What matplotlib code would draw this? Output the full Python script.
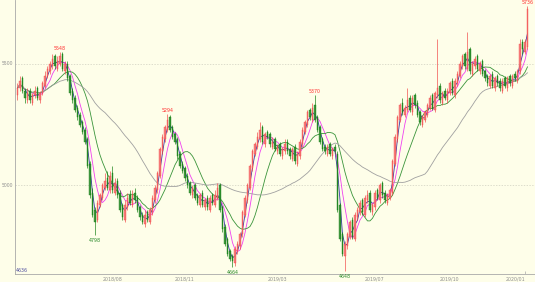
import matplotlib
matplotlib.use('Agg')
import matplotlib.pyplot as plt
import numpy as np
import pandas as pd

# daily-ish candles (about 2.5 px per candle)
opens = [5370, 5400, 5440, 5390, 5350, 5390, 5340, 5370, 5400, 5350, 5380, 5410,
         5450, 5470, 5490, 5530, 5480, 5500, 5540, 5470, 5500, 5450, 5390, 5360,
         5320, 5290, 5260, 5230, 5190, 5090, 4970, 4900, 4860, 4920, 4950, 4990,
         5030, 4980, 5050, 4970, 5020, 4970, 4920, 4860, 4910, 4960, 4920, 4970,
         4950, 4910, 4880, 4840, 4890, 4850, 4890, 4940, 4980, 5040, 5140, 5190,
         5230, 5280, 5240, 5210, 5190, 5130, 5090, 5070, 5040, 5010, 4960, 5000,
         4960, 4920, 4970, 4910, 4950, 4900, 4960, 4920, 4950, 5000, 4910, 4830,
         4780, 4730, 4710, 4680, 4730, 4750, 4800, 4880, 4940, 4990, 5070, 5130,
         5160, 5190, 5240, 5170, 5220, 5210, 5160, 5190, 5140, 5170, 5120, 5140,
         5180, 5150, 5110, 5160, 5090, 5120, 5170, 5220, 5250, 5310, 5270, 5330,
         5280, 5240, 5190, 5160, 5130, 5170, 5120, 5160, 5130, 4920, 4800, 4710,
         4750, 4790, 4860, 4780, 4870, 4890, 4940, 4880, 4940, 4970, 4890, 4910,
         4980, 4940, 5010, 4970, 4930, 4950, 4970, 5090, 5190, 5270, 5340, 5290,
         5310, 5360, 5300, 5370, 5340, 5300, 5250, 5270, 5290, 5320, 5370, 5310,
         5370, 5410, 5340, 5390, 5350, 5380, 5430, 5370, 5420, 5450, 5490, 5540,
         5480, 5560, 5460, 5490, 5530, 5470, 5510, 5470, 5450, 5410, 5460, 5400,
         5450, 5430, 5390, 5440, 5400, 5450, 5410, 5460, 5430, 5470, 5590, 5550,
         5570]
highs = [5420, 5450, 5450, 5400, 5400, 5400, 5380, 5410, 5410, 5390, 5430, 5470,
         5490, 5510, 5540, 5540, 5530, 5548, 5550, 5510, 5510, 5460, 5400, 5370,
         5330, 5300, 5270, 5240, 5200, 5100, 4990, 4910, 4940, 4970, 5010, 5050,
         5060, 5060, 5080, 5030, 5030, 4980, 4930, 4940, 4970, 4980, 4980, 4990,
         4960, 4920, 4890, 4900, 4900, 4910, 4960, 5000, 5060, 5160, 5210, 5250,
         5294, 5290, 5250, 5220, 5200, 5140, 5100, 5080, 5050, 5020, 5000, 5010,
         4970, 4970, 4980, 4950, 4960, 4960, 4970, 4980, 5010, 5010, 4920, 4840,
         4790, 4740, 4720, 4750, 4770, 4810, 4900, 4960, 5010, 5090, 5150, 5180,
         5220, 5260, 5250, 5220, 5230, 5220, 5200, 5200, 5170, 5180, 5160, 5190,
         5190, 5160, 5160, 5170, 5140, 5190, 5240, 5270, 5310, 5320, 5340, 5370,
         5290, 5250, 5200, 5170, 5170, 5180, 5160, 5170, 5140, 4930, 4810, 4770,
         4810, 4860, 4870, 4890, 4910, 4940, 4950, 4960, 4980, 4980, 4930, 4980,
         4990, 5010, 5020, 4980, 4970, 4990, 5110, 5210, 5290, 5340, 5360, 5330,
         5400, 5370, 5370, 5380, 5350, 5310, 5290, 5310, 5340, 5370, 5380, 5390,
         5600, 5420, 5390, 5400, 5400, 5430, 5440, 5440, 5470, 5510, 5540, 5550,
         5630, 5570, 5510, 5530, 5540, 5510, 5520, 5480, 5460, 5460, 5470, 5450,
         5460, 5440, 5440, 5450, 5450, 5460, 5460, 5470, 5480, 5600, 5600, 5600,
         5736]
lows = [5350, 5390, 5380, 5340, 5340, 5340, 5330, 5360, 5350, 5340, 5370, 5400,
        5440, 5460, 5480, 5480, 5470, 5490, 5470, 5460, 5430, 5370, 5340, 5300,
        5270, 5240, 5210, 5170, 5070, 4950, 4870, 4798, 4850, 4910, 4940, 4980,
        4980, 4970, 4970, 4960, 4950, 4890, 4860, 4850, 4900, 4920, 4910, 4930,
        4890, 4860, 4840, 4830, 4850, 4840, 4880, 4930, 4970, 5030, 5130, 5180,
        5220, 5220, 5190, 5170, 5110, 5070, 5050, 5020, 4990, 4960, 4950, 4940,
        4920, 4910, 4910, 4900, 4900, 4890, 4920, 4910, 4940, 4890, 4810, 4750,
        4710, 4690, 4664, 4670, 4720, 4740, 4790, 4870, 4930, 4980, 5060, 5120,
        5150, 5180, 5170, 5160, 5190, 5160, 5150, 5140, 5130, 5120, 5110, 5130,
        5130, 5110, 5100, 5090, 5080, 5110, 5160, 5210, 5240, 5270, 5260, 5260,
        5220, 5170, 5140, 5130, 5120, 5120, 5110, 5130, 4890, 4770, 4710, 4648,
        4740, 4780, 4780, 4770, 4860, 4880, 4880, 4870, 4930, 4890, 4880, 4900,
        4940, 4930, 4950, 4930, 4920, 4940, 4960, 5080, 5180, 5260, 5290, 5280,
        5300, 5300, 5290, 5320, 5280, 5250, 5240, 5260, 5280, 5310, 5310, 5300,
        5360, 5340, 5330, 5350, 5340, 5370, 5370, 5360, 5410, 5440, 5480, 5480,
        5470, 5460, 5450, 5480, 5470, 5460, 5450, 5430, 5410, 5400, 5400, 5390,
        5410, 5390, 5380, 5400, 5390, 5410, 5400, 5430, 5420, 5460, 5540, 5540,
        5560]
closes = [5400, 5430, 5390, 5360, 5380, 5350, 5370, 5390, 5360, 5380, 5420, 5450,
          5480, 5500, 5520, 5490, 5510, 5530, 5480, 5500, 5440, 5380, 5350, 5310,
          5280, 5250, 5220, 5180, 5080, 4960, 4880, 4850, 4930, 4960, 5000, 5020,
          4990, 5040, 4980, 5010, 4960, 4900, 4870, 4920, 4950, 4930, 4960, 4940,
          4900, 4870, 4850, 4880, 4860, 4900, 4950, 4990, 5050, 5150, 5200, 5240,
          5270, 5230, 5200, 5180, 5120, 5080, 5060, 5030, 5000, 4970, 4990, 4950,
          4930, 4960, 4920, 4940, 4910, 4950, 4930, 4960, 4990, 4900, 4820, 4760,
          4720, 4700, 4690, 4740, 4760, 4800, 4890, 4950, 5000, 5080, 5140, 5170,
          5200, 5230, 5180, 5210, 5200, 5170, 5180, 5150, 5160, 5130, 5150, 5170,
          5140, 5120, 5150, 5100, 5130, 5180, 5230, 5260, 5300, 5280, 5320, 5270,
          5230, 5180, 5150, 5140, 5160, 5130, 5150, 5140, 4900, 4780, 4720, 4760,
          4800, 4850, 4790, 4880, 4900, 4930, 4890, 4950, 4960, 4900, 4920, 4970,
          4950, 5000, 4960, 4940, 4960, 4980, 5100, 5200, 5280, 5330, 5300, 5320,
          5350, 5310, 5360, 5330, 5290, 5260, 5280, 5300, 5330, 5360, 5320, 5380,
          5400, 5350, 5380, 5360, 5390, 5420, 5380, 5430, 5460, 5500, 5530, 5490,
          5550, 5470, 5500, 5520, 5480, 5500, 5460, 5440, 5420, 5450, 5410, 5440,
          5420, 5400, 5430, 5410, 5440, 5420, 5450, 5440, 5470, 5580, 5560, 5590,
          5725]

tick_idx = [34, 63, 100, 139, 169, 203]
tick_labels = ['2018/08', '2018/11', '2019/03', '2019/07', '2019/10', '2020/01']
y_ticks = [5000, 5500]
peak_idx = [17, 60, 119, 204]
trough_idx = [31, 86, 131]
y_min = 4636
y_max = 5762

df = pd.DataFrame({'o': opens, 'h': highs, 'l': lows, 'c': closes})
x = np.arange(len(df))
up = df['c'] >= df['o']

bg = '#fefee9'
fig = plt.figure(figsize=(5.35, 2.82), dpi=100, facecolor=bg)
ax = fig.add_axes([0.028, 0.028, 0.972, 0.972], facecolor=bg)

# moving averages
ma_cols = [(3, '#3a3aa8'), (6, '#f040f0'), (13, '#3a943a'), (36, '#a0a0a0')]
for n, col in ma_cols:
    ma = df['c'].rolling(n, min_periods=1).mean()
    ax.plot(x, ma, color=col, lw=0.6, zorder=2)

# candles
for is_up, col, body in [(True, '#f04040', '#f87070'), (False, '#0a7a0a', '#2a8a2a')]:
    m = (up == is_up).values
    ax.vlines(x[m], df['l'][m], df['h'][m], color=col, lw=0.6, zorder=3, alpha=0.75)
    lo = np.minimum(df['o'][m], df['c'][m])
    hgt = np.abs(df['c'][m] - df['o'][m]).clip(lower=2)
    ax.bar(x[m], hgt, bottom=lo, width=0.75, color=body, edgecolor=col,
           linewidth=0.3, zorder=4, alpha=0.85)

for i in peak_idx:
    ax.text(x[i], df['h'][i] + 4, str(df['h'][i]), color='#ff3030', fontsize=3.4,
            ha='center', va='bottom', zorder=5, clip_on=False)
for i in trough_idx:
    ax.text(x[i], df['l'][i] - 12, str(df['l'][i]), color='#2a8a2a', fontsize=3.4,
            ha='center', va='top', zorder=5)

for v in y_ticks:
    ax.axhline(v, color='#d0d0c0', lw=0.5, ls=(0, (2, 2)), zorder=1)
    ax.text(-0.004, v, str(v), transform=ax.get_yaxis_transform(), color='#909090',
            fontsize=3.3, ha='right', va='center')
ax.text(0.002, y_min + 4, str(y_min), transform=ax.get_yaxis_transform(),
        color='#5050a0', fontsize=3.4, ha='left', va='bottom')

ax.set_xlim(-1, 207)
ax.set_ylim(y_min, y_max)
ax.set_yticks([])
ax.set_xticks(tick_idx)
ax.set_xticklabels(tick_labels, fontsize=3.4, color='#909090', ha='left')
# last label would run off the right edge, pull it inside
ax.get_xticklabels()[-1].set_horizontalalignment('right')
ax.get_xticklabels()[-1].set_x(206.5)
ax.tick_params(axis='x', length=0, pad=2)
ax.vlines(tick_idx[-1], y_min, y_min + 12, color='#a8a8a8', lw=0.5)
for s in ['top', 'right']:
    ax.spines[s].set_visible(False)
for s in ['left', 'bottom']:
    ax.spines[s].set_color('#a8a8a8')
    ax.spines[s].set_linewidth(0.6)

fig.savefig('out.png', dpi=100, facecolor=bg)
